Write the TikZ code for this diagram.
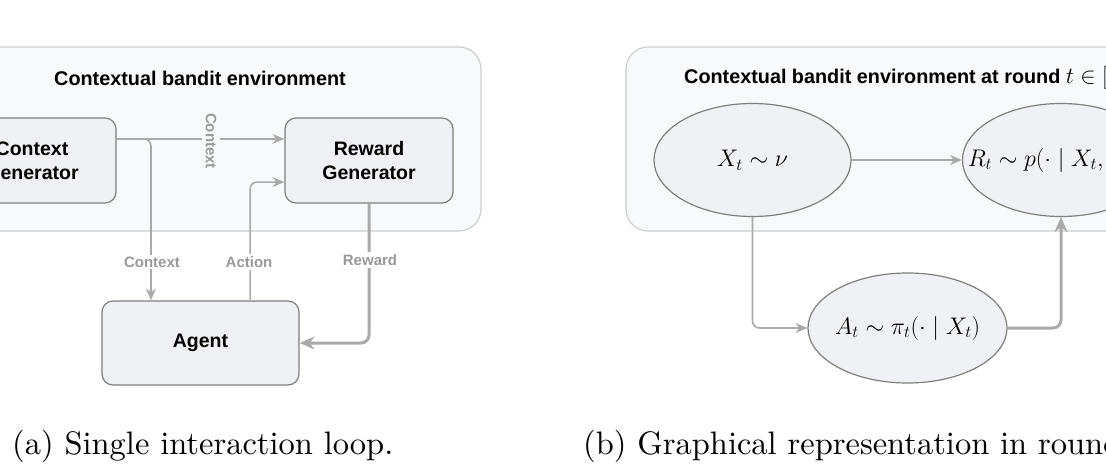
\RequirePackage{fix-cm}
\documentclass[tikz,border=0pt]{standalone}
\usepackage{fontspec}
\newfontfamily\arialf{Liberation Sans}
\newfontfamily\capfont{lmroman10-regular.otf}
\usetikzlibrary{arrows.meta,calc,shapes.geometric}
\definecolor{envfill}{HTML}{F8F9FA}
\definecolor{envdraw}{HTML}{CFCFCF}
\definecolor{boxfill}{HTML}{F0F1F4}
\definecolor{boxdraw}{HTML}{7F7F7F}
\definecolor{arrowc}{HTML}{AAAAAA}
\definecolor{labelc}{HTML}{999999}
\tikzset{
  envbox/.style={draw=envdraw, fill=envfill, line width=1.2pt, rounded corners=22pt},
  genbox/.style={draw=boxdraw, fill=boxfill, line width=1.2pt, rounded corners=11pt,
    minimum width=#1, minimum height=85pt, inner sep=0pt, align=center,
    font=\arialf\bfseries\fontsize{19.5}{24}\selectfont},
  genbox/.default=168pt,
  ell/.style={ellipse, draw=boxdraw, fill=boxfill, line width=1.2pt, inner sep=0pt},
  mathlbl/.style={font=\fontsize{24}{28}\selectfont, inner sep=0pt},
  conn/.style={draw=arrowc, line width=1.6pt, rounded corners=7pt,
    -{Stealth[length=12pt,width=10pt,inset=4pt]}},
  thickconn/.style={draw=arrowc, line width=3pt, rounded corners=8pt,
    -{Stealth[length=15pt,width=13pt,inset=5pt]}},
  lbl/.style={text=labelc, font=\arialf\bfseries\fontsize{15}{18}\selectfont, inner sep=2pt},
  ttl/.style={font=\arialf\bfseries\fontsize{19.8}{24}\selectfont},
  capt/.style={font=\capfont\fontsize{32.5}{38}\selectfont, inner sep=0pt}
}
\begin{document}
\begin{tikzpicture}[x=1pt,y=-1pt]
\useasboundingbox (0,0) rectangle (1106,471);
\clip (0,0) rectangle (1106,471);
\fill[white] (0,0) rectangle (1106,471);
% ---------- left panel ----------
\draw[envbox] (-40,47) rectangle (481,231);
\node[ttl] (t1) at (200,78) {Contextual bandit environment};
\node[genbox] (cg) at (32,160.5) {Context\\Generator};
\node[genbox] (rg) at (369,160.5) {Reward\\Generator};
\node[genbox=197pt, minimum height=84pt] (ag) at (200.5,343) {Agent};
\coordinate (cgR) at ($(cg.north east)!0.25!(cg.south east)$);
\coordinate (rgA) at ($(rg.north west)!0.25!(rg.south west)$);
\coordinate (rgB) at ($(rg.north west)!0.75!(rg.south west)$);
\coordinate (agA) at ($(ag.north west)!0.25!(ag.north east)$);
\coordinate (agB) at ($(ag.north west)!0.75!(ag.north east)$);
\draw[conn] (cgR) -- (rgA);
\draw[conn] (cgR) -| (agA);
\draw[conn] (agB) |- (rgB);
\draw[thickconn] (rg.south) |- (ag.east);
\node[lbl, fill=envfill, rotate=-90, inner ysep=4pt] (l1) at (211,141) {Context};
\node[lbl, fill=white] (l2) at (152,262) {Context};
\node[lbl, fill=white] (l3) at (249,262) {Action};
\node[lbl, fill=white] (l4) at (370,260) {Reward};
% ---------- right panel ----------
\draw[envbox] (626,47) rectangle (1220,231);
\node[ttl, anchor=west, inner sep=0pt] (t2) at (684,78) {Contextual bandit environment at round {\fontsize{23}{28}\selectfont$t \in [T]$}};
\node[ell, minimum width=197pt, minimum height=113pt,
  label={[mathlbl]center:$X_t \sim \nu$}] (X) at (752.5,160) {};
\node[ell, minimum width=197pt, minimum height=113pt,
  label={[mathlbl, xshift=-7pt]center:$R_t \sim p(\cdot \mid X_t, A_t)$}] (R) at (1061,160) {};
\node[ell, minimum width=199pt, minimum height=110pt,
  label={[mathlbl]center:$A_t \sim \pi_t(\cdot \mid X_t)$}] (A) at (907.5,328) {};
\draw[conn] (X.east) -- (R.west);
\draw[conn] (X.south) |- (A.west);
\draw[thickconn] (A.east) -| (R.south);
% ---------- captions ----------
\node[capt, anchor=base west] (ca) at (12,454) {(a) Single interaction loop.};
\node[capt, anchor=base west] (cb) at (583,454) {(b) Graphical representation in round $t$.};
\end{tikzpicture}
\end{document}
